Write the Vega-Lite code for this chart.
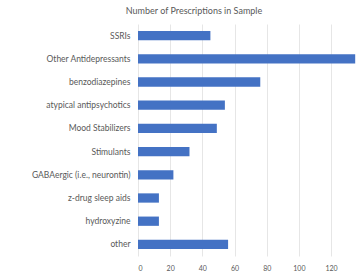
{
  "$schema": "https://vega.github.io/schema/vega-lite/v6.json",
  "autosize": {"type": "none"},
  "padding": {"left": 138, "top": 24, "right": 2, "bottom": 20},
  "width": 218,
  "height": 232,
  "background": "white",
  "title": {
    "text": "Number of Prescriptions in Sample",
    "font": "Lato",
    "fontSize": 9,
    "fontWeight": "normal",
    "color": "#595959",
    "anchor": "middle",
    "dx": -53,
    "offset": 8
  },
  "data": {
    "values": [
      {"category": "SSRIs", "value": 45},
      {"category": "Other Antidepressants", "value": 135},
      {"category": "benzodiazepines", "value": 76},
      {"category": "atypical antipsychotics", "value": 54},
      {"category": "Mood Stabilizers", "value": 49},
      {"category": "Stimulants", "value": 32},
      {"category": "GABAergic (i.e., neurontin)", "value": 22},
      {"category": "z-drug sleep aids", "value": 13},
      {"category": "hydroxyzine", "value": 13},
      {"category": "other", "value": 56}
    ]
  },
  "mark": {"type": "bar", "color": "#4472C4"},
  "encoding": {
    "y": {
      "field": "category",
      "type": "nominal",
      "sort": null,
      "scale": {"paddingInner": 0.6, "paddingOuter": 0.3},
      "axis": {
        "title": null,
        "domain": false,
        "ticks": false,
        "labelPadding": 8,
        "labelFont": "Lato",
        "labelFontSize": 8.5,
        "labelColor": "#595959",
        "grid": false
      }
    },
    "x": {
      "field": "value",
      "type": "quantitative",
      "scale": {"domain": [0, 135.5], "nice": false},
      "axis": {
        "title": null,
        "values": [0, 20, 40, 60, 80, 100, 120],
        "domain": false,
        "ticks": false,
        "grid": true,
        "gridColor": "#e0e0e0",
        "gridWidth": 0.8,
        "labelFont": "Lato",
        "labelFontSize": 7,
        "labelColor": "#595959",
        "labelPadding": 8
      }
    }
  },
  "config": {"view": {"stroke": null}}
}
